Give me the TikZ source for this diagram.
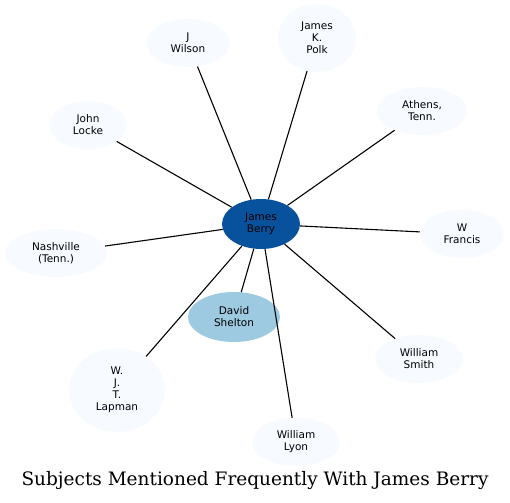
\documentclass[tikz,border=0pt]{standalone}
\usepackage{fontspec}
\setmainfont{DejaVu Sans}
\newfontfamily\titlefont{DejaVu Serif}
\usetikzlibrary{shapes.geometric}
\definecolor{hubblue}{HTML}{08519C}
\definecolor{midblue}{HTML}{9ECAE1}
\definecolor{paleblue}{HTML}{F7FBFF}
\tikzset{
  subj/.style={ellipse, fill=paleblue, inner sep=0pt, align=center, font=\fontsize{10.5}{12}\selectfont, minimum height=48},
  link/.style={black, line width=1.1pt}
}
\begin{document}
\begin{tikzpicture}[x=1pt, y=-1pt]
\useasboundingbox (0,0) rectangle (510,502);
\node[subj, fill=hubblue, minimum width=78, minimum height=50] (sid0) at (261,224){James\\Berry};
\node[subj, fill=midblue, minimum width=92, minimum height=50] (sid1) at (234,317){David\\Shelton};
\node[subj, minimum width=84] (sid2) at (188,43){J\\Wilson};
\node[subj, minimum width=78, minimum height=68] (sid3) at (317,38){James\\K.\\Polk};
\node[subj, minimum width=90] (sid4) at (422,111){Athens,\\Tenn.};
\node[subj, minimum width=78] (sid5) at (88,125){John\\Locke};
\node[subj, minimum width=84] (sid6) at (462,234){W\\Francis};
\node[subj, minimum width=102] (sid7) at (56,253){Nashville\\(Tenn.)};
\node[subj, minimum width=88] (sid8) at (419,359){William\\Smith};
\node[subj, minimum width=96, minimum height=84] (sid9) at (117,390){W.\\J.\\T.\\Lapman};
\node[subj, minimum width=88] (sid10) at (296,442){William\\Lyon};
\draw[link](sid0) -- (sid1);
\draw[link](sid0) -- (sid2);
\draw[link](sid0) -- (sid3);
\draw[link](sid0) -- (sid4);
\draw[link](sid0) -- (sid5);
\draw[link](sid0) -- (sid6);
\draw[link](sid0) -- (sid7);
\draw[link](sid0) -- (sid8);
\draw[link](sid0) -- (sid9);
\draw[link](sid0) -- (sid10);
\node[font=\titlefont\fontsize{18.5}{22}\selectfont] (title) at (255,481){Subjects Mentioned Frequently With James Berry};
\end{tikzpicture}
\end{document}
